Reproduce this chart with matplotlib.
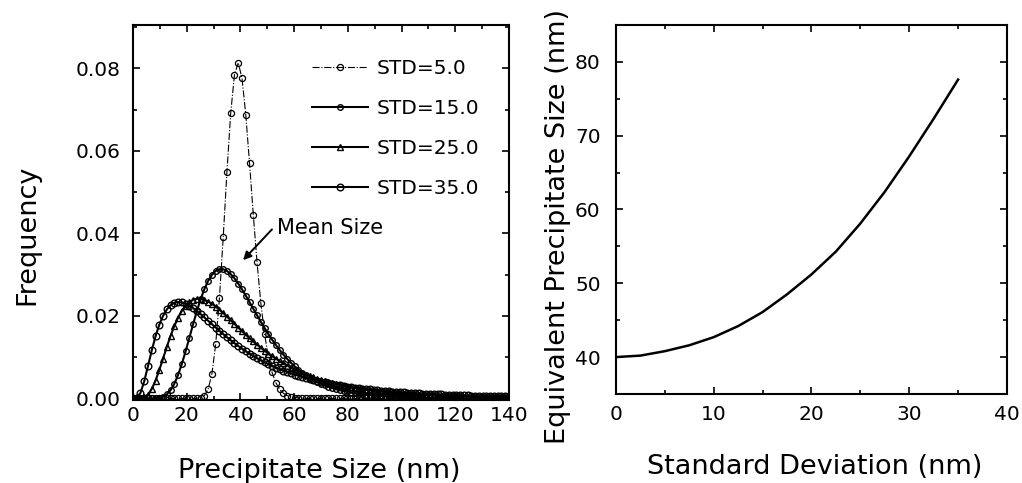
import numpy as np
import matplotlib
matplotlib.use("Agg")
import matplotlib.pyplot as plt
from matplotlib.ticker import MultipleLocator, FormatStrFormatter

plt.rcParams['font.family'] = ['DejaVu Sans']

# precipitate size grid (nm), one marker every 1.4 nm
size_nm = np.arange(101) * 1.4

freq_std5 = [0.0] * 17 + [
    0.00003, 0.00016, 0.00069, 0.00226, 0.00597, 0.01308, 0.02429, 0.03900,
    0.05499, 0.06915, 0.07850, 0.08133, 0.07761, 0.06880, 0.05705, 0.04456,
    0.03295, 0.02318, 0.01562, 0.01009, 0.00628, 0.00378, 0.00220, 0.00125,
    0.00069, 0.00037, 0.00020, 0.00010, 0.00005] + [0.0] * 55

freq_std15 = [
    0, 0, 0, 0, 0, 0, 0.00003, 0.00012, 0.00039, 0.00096,
    0.00198, 0.00355, 0.00569, 0.00835, 0.01140, 0.01468, 0.01799, 0.02116, 0.02403, 0.02650,
    0.02848, 0.02994, 0.03088, 0.03132, 0.03130, 0.03088, 0.03012, 0.02909, 0.02784, 0.02643,
    0.02491, 0.02333, 0.02173, 0.02014, 0.01857, 0.01706, 0.01561, 0.01424, 0.01294, 0.01174,
    0.01062, 0.00958, 0.00863, 0.00776, 0.00697, 0.00624, 0.00559, 0.00500, 0.00447, 0.00399,
    0.00355, 0.00317, 0.00282, 0.00251, 0.00223, 0.00198, 0.00176, 0.00157, 0.00139, 0.00124,
    0.00110, 0.00098, 0.00087, 0.00077, 0.00068, 0.00061, 0.00054, 0.00048, 0.00042, 0.00038,
    0.00033, 0.00030, 0.00026, 0.00023, 0.00021, 0.00019, 0.00017, 0.00015, 0.00013, 0.00012,
    0.00010, 0.00009, 0.00008, 0.00007, 0.00007, 0.00006, 0.00005, 0.00005, 0.00004, 0.00004,
    0.00003, 0.00003, 0.00003, 0.00002, 0.00002, 0.00002, 0.00002, 0.00002, 0.00001, 0.00001,
    0.00001]

freq_std25 = [
    0, 0, 0.00002, 0.00022, 0.00091, 0.00227, 0.00431, 0.00685, 0.00964, 0.01247,
    0.01514, 0.01753, 0.01957, 0.02121, 0.02247, 0.02335, 0.02389, 0.02413, 0.02412, 0.02388,
    0.02347, 0.02291, 0.02224, 0.02149, 0.02068, 0.01982, 0.01894, 0.01806, 0.01717, 0.01630,
    0.01544, 0.01460, 0.01379, 0.01301, 0.01226, 0.01155, 0.01087, 0.01022, 0.00961, 0.00902,
    0.00848, 0.00796, 0.00747, 0.00701, 0.00657, 0.00617, 0.00578, 0.00543, 0.00509, 0.00477,
    0.00448, 0.00420, 0.00394, 0.00370, 0.00347, 0.00326, 0.00306, 0.00287, 0.00269, 0.00253,
    0.00238, 0.00224, 0.00210, 0.00197, 0.00185, 0.00174, 0.00164, 0.00154, 0.00145, 0.00137,
    0.00129, 0.00121, 0.00114, 0.00108, 0.00101, 0.00096, 0.00090, 0.00085, 0.00080, 0.00076,
    0.00071, 0.00067, 0.00064, 0.00060, 0.00057, 0.00054, 0.00051, 0.00048, 0.00045, 0.00043,
    0.00041, 0.00038, 0.00036, 0.00034, 0.00033, 0.00031, 0.00029, 0.00028, 0.00026, 0.00025,
    0.00024]

freq_std35 = [
    0, 0.00010, 0.00132, 0.00416, 0.00785, 0.01163, 0.01504, 0.01784, 0.02000, 0.02155,
    0.02257, 0.02314, 0.02335, 0.02327, 0.02296, 0.02248, 0.02188, 0.02118, 0.02042, 0.01962,
    0.01881, 0.01799, 0.01717, 0.01637, 0.01558, 0.01482, 0.01408, 0.01337, 0.01269, 0.01205,
    0.01143, 0.01084, 0.01028, 0.00975, 0.00924, 0.00876, 0.00831, 0.00788, 0.00748, 0.00709,
    0.00673, 0.00639, 0.00607, 0.00576, 0.00547, 0.00520, 0.00494, 0.00470, 0.00446, 0.00425,
    0.00404, 0.00385, 0.00366, 0.00349, 0.00332, 0.00316, 0.00301, 0.00287, 0.00274, 0.00261,
    0.00249, 0.00238, 0.00227, 0.00217, 0.00207, 0.00198, 0.00189, 0.00181, 0.00173, 0.00166,
    0.00159, 0.00152, 0.00146, 0.00140, 0.00134, 0.00128, 0.00123, 0.00118, 0.00113, 0.00108,
    0.00104, 0.00100, 0.00096, 0.00092, 0.00088, 0.00084, 0.00081, 0.00078, 0.00075, 0.00072,
    0.00069, 0.00067, 0.00064, 0.00062, 0.00059, 0.00057, 0.00055, 0.00053, 0.00051, 0.00049,
    0.00047]

# right panel: equivalent size vs standard deviation
std_dev = [0, 2.5, 5, 7.5, 10, 12.5, 15, 17.5, 20, 22.5, 25, 27.5, 30, 32.5, 35]
equiv_size = [40.0, 40.2, 40.8, 41.6, 42.7, 44.2, 46.1, 48.5, 51.2, 54.3,
              58.1, 62.4, 67.2, 72.3, 77.6]

fig = plt.figure(figsize=(10.22, 4.83), dpi=100)
ax = fig.add_axes([0.1301, 0.1718, 0.3679, 0.7764])
ax2 = fig.add_axes([0.6027, 0.1843, 0.3826, 0.764])

# left panel: size distributions
ax.plot(size_nm, freq_std5, color='black', ls='-.', lw=0.8, marker='o', ms=4.4,
        mfc='none', mew=0.9, label='STD=5.0')
ax.plot(size_nm, freq_std15, color='black', ls='-', lw=1.5, marker='o', ms=4.0,
        mfc='none', mew=1.0, label='STD=15.0')
ax.plot(size_nm, freq_std25, color='black', ls='-', lw=1.5, marker='^', ms=4.0,
        mfc='none', mew=1.0, label='STD=25.0')
ax.plot(size_nm, freq_std35, color='black', ls='-', lw=1.5, marker='o', ms=4.8,
        mfc='none', mew=1.0, label='STD=35.0')

ax.set_xlim(0, 140)
ax.set_ylim(-0.0004, 0.0905)
ax.xaxis.set_major_locator(MultipleLocator(20))
ax.xaxis.set_minor_locator(MultipleLocator(10))
ax.yaxis.set_major_locator(MultipleLocator(0.02))
ax.yaxis.set_minor_locator(MultipleLocator(0.01))
ax.yaxis.set_major_formatter(FormatStrFormatter('%.2f'))

ax.annotate('Mean Size', xy=(41.0, 0.0335), xytext=(53.5, 0.0412),
            fontsize=15, va='center', ha='left',
            arrowprops=dict(arrowstyle='-|>', color='black', lw=1.4,
                            relpos=(0, 0.7), shrinkA=2, shrinkB=0,
                            mutation_scale=12))

ax.legend(loc='upper left', bbox_to_anchor=(0.475, 0.91), frameon=False,
          fontsize=14.5, handlelength=2.8, handletextpad=0.45,
          labelspacing=1.05, borderpad=0, borderaxespad=0, numpoints=1)

ax.set_xlabel('Precipitate Size (nm)', fontsize=19.5, ha='center', va='center')
ax.set_ylabel('Frequency', fontsize=19.5, ha='center', va='center')
ax.xaxis.set_label_coords(0.495, -0.189)
ax.yaxis.set_label_coords(-0.282, 0.44)

# right panel
ax2.plot(std_dev, equiv_size, color='black', lw=1.8)
ax2.set_xlim(0, 40)
ax2.set_ylim(35, 85)
ax2.xaxis.set_major_locator(MultipleLocator(10))
ax2.xaxis.set_minor_locator(MultipleLocator(5))
ax2.yaxis.set_major_locator(MultipleLocator(10))
ax2.yaxis.set_minor_locator(MultipleLocator(5))
ax2.set_xlabel('Standard Deviation (nm)', fontsize=19.5, ha='center', va='center')
ax2.set_ylabel('Equivalent Precipitate Size (nm)', fontsize=19.5, ha='center', va='center')
ax2.xaxis.set_label_coords(0.509, -0.198)
ax2.yaxis.set_label_coords(-0.148, 0.455)

for a in (ax, ax2):
    for s in a.spines.values():
        s.set_linewidth(1.5)
    a.tick_params(which='both', direction='in', top=True, right=True, width=1.2,
                  labelsize=14.5)
    a.tick_params(which='major', length=5)
    a.tick_params(which='minor', length=3)

ax.tick_params(axis='y', pad=9)
ax.tick_params(axis='x', pad=4)
ax2.tick_params(axis='y', pad=11)
ax2.tick_params(axis='x', pad=8)

fig.savefig('out.png', dpi=100)
